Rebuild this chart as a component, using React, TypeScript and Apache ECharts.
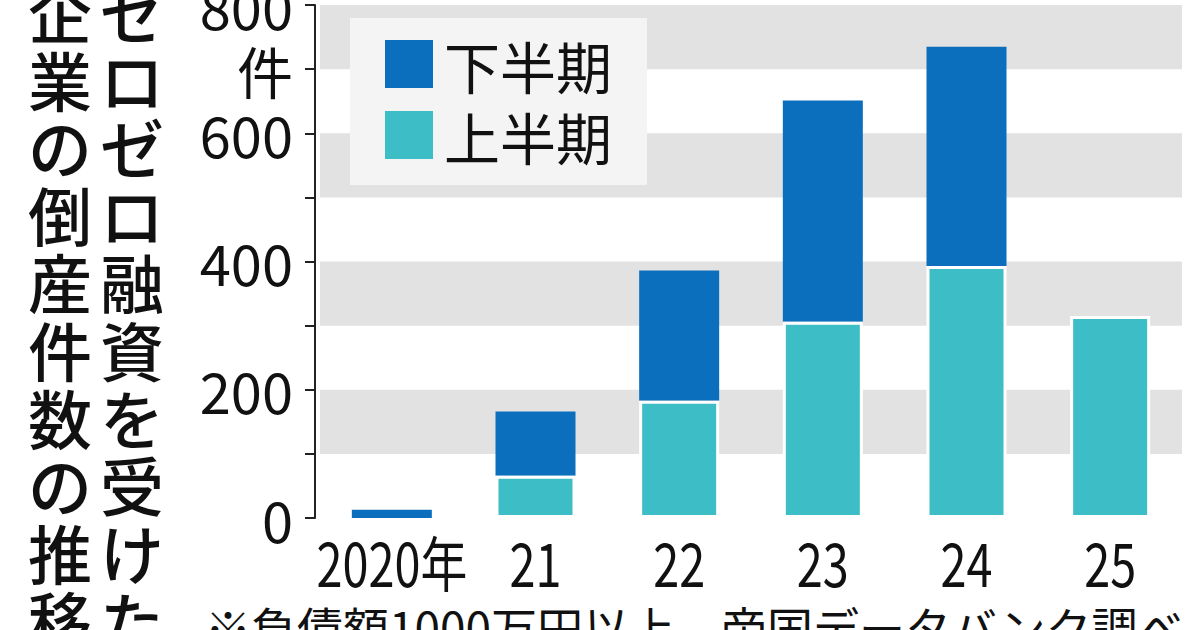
import React, { useEffect, useRef } from "react";
import * as echarts from "echarts";

const categories = ["2020年", "21", "22", "23", "24", "25"];
const firstHalf = [0, 66, 183, 306, 393, 315];
const secondHalf = [13, 100, 203, 345, 342, null];
const yTicks = [0, 200, 400, 600, 800];
const unitLabel = "件";
const titleCol1 = "ゼロゼロ融資を受けた";
const titleCol2 = "企業の倒産件数の推移";
const footnote = "※負債額1000万円以上、帝国データバンク調べ";

const DARK = "#0c6fbe";
const CYAN = "#3dbdc6";
const JP = '"Noto Sans CJK JP", sans-serif';

export default function App() {
  const ref = useRef<HTMLDivElement>(null);
  useEffect(() => {
    if (!ref.current) return;
    const chart = echarts.init(ref.current, null, { renderer: "svg" });
    chart.setOption({
      animation: false,
      backgroundColor: "#ffffff",
      grid: { left: 320, right: 18, top: 5, bottom: 112, containLabel: false, outerBoundsMode: "none" },
      legend: {
        orient: "vertical",
        left: 350,
        top: 18,
        data: ["下半期", "上半期"],
        backgroundColor: "#f4f4f4",
        padding: [18, 35, 22, 35],
        itemWidth: 48,
        itemHeight: 48,
        itemGap: 15,
        icon: "rect",
        itemStyle: { borderWidth: 0 },
        textStyle: { fontSize: 56, fontFamily: JP, color: "#111", padding: [0, 0, 0, 6] },
      },
      xAxis: {
        type: "category",
        data: categories,
        axisLine: { show: false },
        axisTick: { show: false },
        axisLabel: { show: false },
      },
      yAxis: {
        type: "value",
        min: 0,
        max: 800,
        interval: 100,
        offset: 5,
        axisLine: { show: true, lineStyle: { color: "#222", width: 2 } },
        axisTick: { show: true, length: 10, lineStyle: { color: "#222", width: 2 } },
        axisLabel: {
          fontSize: 56,
          fontFamily: JP,
          color: "#111",
          margin: 22,
          formatter: (v: number) => (yTicks.includes(v) ? String(v) : v === 700 ? unitLabel : ""),
        },
        splitLine: { show: false },
        splitArea: { show: true, areaStyle: { color: ["rgba(255,255,255,0)", "#e2e2e2"] } },
      },
      series: [
        {
          name: "上半期",
          type: "bar",
          stack: "total",
          barWidth: 80,
          z: 3,
          itemStyle: { color: CYAN, borderColor: "#ffffff", borderWidth: 3 },
          data: firstHalf.map((v) => (v === 0 ? { value: v, itemStyle: { borderWidth: 0 } } : v)),
        },
        {
          name: "下半期",
          type: "bar",
          stack: "total",
          barWidth: 80,
          z: 2,
          itemStyle: { color: DARK },
          data: secondHalf.map((v) => (v === null ? "-" : v)),
        },
      ],
    });

    const graphics: any[] = [];
    const pitch = 67.6;
    const row0 = 10;
    [
      { text: titleCol1, x: 132 },
      { text: titleCol2, x: 60 },
    ].forEach((col) => {
      col.text.split("").forEach((ch, i) => {
        graphics.push({
          type: "text",
          x: col.x,
          y: row0 + i * pitch,
          style: {
            text: ch,
            font: `500 64px ${JP}`,
            lineHeight: 64,
            align: "center",
            verticalAlign: "middle",
            fill: "#111",
          },
        });
      });
    });
    graphics.push({
      type: "text",
      x: 205,
      y: 626,
      style: { text: footnote, font: `46px ${JP}`, align: "left", verticalAlign: "middle", fill: "#111" },
    });
    const baseY = chart.convertToPixel({ yAxisIndex: 0 }, 0) as number;
    categories.forEach((c) => {
      const cx = chart.convertToPixel({ xAxisIndex: 0 }, c) as number;
      graphics.push({
        type: "text",
        x: cx,
        y: baseY + 43,
        scaleX: 0.78,
        style: { text: c, font: `60px ${JP}`, align: "center", verticalAlign: "middle", fill: "#111" },
      });
    });
    chart.setOption({ graphic: graphics });
    return () => chart.dispose();
  }, []);
  return (
    <div
      ref={ref}
      style={{ position: "fixed", left: 0, top: 0, width: 1200, height: 630, background: "#fff" }}
    />
  );
}
